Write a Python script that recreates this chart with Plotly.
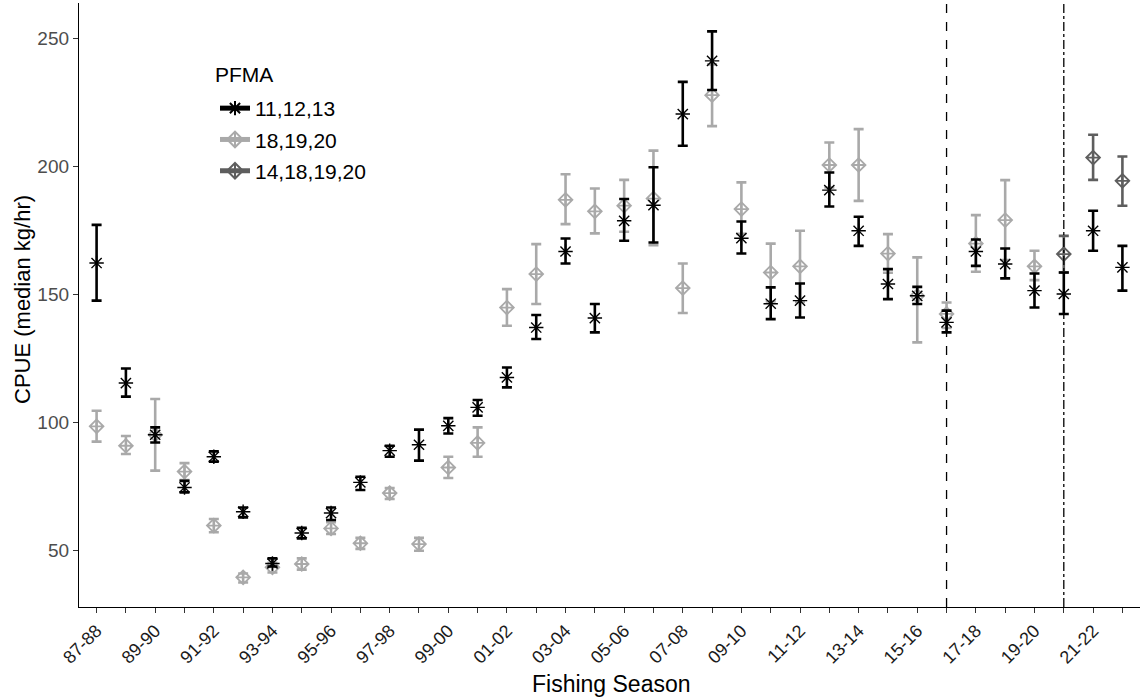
import plotly.graph_objects as go

seasons = ["87-88","88-89","89-90","90-91","91-92","92-93","93-94","94-95","95-96","96-97",
           "97-98","98-99","99-00","00-01","01-02","02-03","03-04","04-05","05-06","06-07",
           "07-08","08-09","09-10","10-11","11-12","12-13","13-14","14-15","15-16","16-17",
           "17-18","18-19","19-20","20-21","21-22","22-23"]

# PFMA 11,12,13 (all seasons)
black_med = [162.4,115.5,95.3,74.7,86.7,65.2,45.0,56.9,64.7,76.7,89.1,91.4,98.8,106.0,117.7,137.2,
             166.9,140.9,178.9,185.0,220.6,241.4,172.1,146.5,147.7,190.9,175.0,154.2,149.6,139.2,
             166.9,162.0,151.6,150.3,175.0,160.7]
black_hi = [177.3,121.2,98.2,77.3,88.8,66.9,47.0,58.9,66.9,78.9,91.0,97.3,101.8,108.9,121.6,142.1,
            172.0,146.4,187.4,199.8,233.2,252.9,178.6,152.9,154.4,197.8,180.5,160.0,153.1,143.8,
            171.6,168.1,158.3,158.7,182.8,169.1]
black_lo = [147.7,110.2,92.3,72.8,84.8,63.0,43.8,54.8,62.0,73.7,86.7,85.2,95.8,102.7,113.8,132.7,
            162.2,135.3,171.1,170.4,208.2,230.0,166.1,140.5,141.1,184.5,169.1,148.3,146.4,135.3,
            161.3,156.4,145.0,142.5,167.2,151.6]

# PFMA 18,19,20 (87-88 to 19-20)
gray_med = [98.6,91.0,95.3,80.9,59.8,39.6,43.5,44.8,58.7,52.9,72.5,52.6,82.5,92.1,145.0,158.1,
            187.1,182.6,184.8,187.6,152.6,228.0,183.5,158.7,161.1,200.7,200.7,166.1,149.6,142.5,
            170.0,179.2,161.1]
gray_hi = [104.7,94.8,109.3,84.2,62.4,41.1,45.3,47.0,61.1,55.0,74.5,55.0,86.7,98.2,152.2,169.8,
           197.1,191.5,194.9,206.3,162.2,240.0,193.9,170.0,175.0,209.5,214.7,173.7,164.6,147.0,
           181.1,194.8,167.2]
gray_lo = [92.6,87.8,81.3,77.6,57.2,37.6,41.5,42.6,56.5,50.7,70.2,50.0,78.4,86.7,137.9,146.4,
           177.6,174.0,174.6,169.4,142.9,215.9,173.8,147.4,147.2,191.9,186.7,158.6,131.4,137.0,
           159.0,163.6,155.7]

# PFMA 14,18,19,20 (20-21 to 22-23)
dgray_med = [165.9,203.6,194.5]
dgray_hi = [173.0,212.5,204.0]
dgray_lo = [158.7,194.9,184.8]

x_all = list(range(len(seasons)))
tick_text = [s if i % 2 == 0 else "" for i, s in enumerate(seasons)]

BLACK = "#000000"
GRAY = "#A9A9A9"
DGRAY = "#5E5E5E"

L, R, T, B = 79, 3, 3, 91
W, H = 1143, 698
PW, PH = W - L - R, H - T - B

def px_x(px):
    return (px - L) / PW

def px_y(py):
    return 1 - (py - T) / PH

fig = go.Figure()

def add_series(xs, med, hi, lo, color, symbol, size, lw, name, rank):
    fig.add_trace(go.Scatter(
        x=xs, y=med, mode="markers", name=name, showlegend=False, legendgroup=name,
        marker=dict(symbol=symbol, size=size, color=color, line=dict(color=color, width=lw)),
        error_y=dict(type="data", symmetric=False,
                     array=[h - m for h, m in zip(hi, med)],
                     arrayminus=[m - l for m, l in zip(med, lo)],
                     color=color, thickness=2.6, width=5),
    ))
    fig.add_trace(go.Scatter(
        x=[None], y=[None], mode="lines+markers", name=name, showlegend=True,
        legendgroup=name, legendrank=rank,
        line=dict(color=color, width=2.6),
        marker=dict(symbol=symbol, size=size, color=color, line=dict(color=color, width=lw)),
    ))

add_series(x_all[:len(gray_med)], gray_med, gray_hi, gray_lo, GRAY, "diamond-cross-open", 10.5, 1.8, "18,19,20", 2)
add_series(x_all[len(seasons) - len(dgray_med):], dgray_med, dgray_hi, dgray_lo, DGRAY, "diamond-cross-open", 10.5, 1.8, "14,18,19,20", 3)
add_series(x_all, black_med, black_hi, black_lo, BLACK, "asterisk-open", 12, 1.4, "11,12,13", 1)

fig.add_shape(type="line", x0=29, x1=29, xref="x", y0=0, y1=1, yref="paper",
              line=dict(color="black", width=1.3, dash="dash"))
fig.add_shape(type="line", x0=33, x1=33, xref="x", y0=0, y1=1, yref="paper",
              line=dict(color="black", width=1.3, dash="dashdot"))

fig.add_annotation(text="PFMA", xref="paper", yref="paper",
                   x=px_x(213), y=px_y(75), xanchor="left", yanchor="middle",
                   showarrow=False, font=dict(size=21, color="black"))
fig.add_annotation(text="CPUE (median kg/hr)", xref="paper", yref="paper",
                   x=px_x(22), y=px_y(300), xanchor="center", yanchor="middle", textangle=-90,
                   showarrow=False, font=dict(size=22, color="black"))
fig.add_annotation(text="Fishing Season", xref="paper", yref="paper",
                   x=px_x(611), y=px_y(684), xanchor="center", yanchor="middle",
                   showarrow=False, font=dict(size=23, color="black"))

fig.update_layout(
    width=W, height=H,
    margin=dict(l=L, r=R, t=T, b=B),
    plot_bgcolor="white", paper_bgcolor="white",
    font=dict(family="Liberation Sans, Arial, sans-serif", color="black"),
    xaxis=dict(
        range=[-0.6, 35.6], tickmode="array", tickvals=x_all, ticktext=tick_text,
        tickangle=-45, ticks="outside", ticklen=5, tickwidth=1.3, tickcolor="#333333",
        showline=True, linecolor="black", linewidth=1.3, showgrid=False, zeroline=False,
        tickfont=dict(size=18, color="#1a1a1a"), automargin=False,
    ),
    yaxis=dict(
        range=[28, 264], tickvals=[50, 100, 150, 200, 250],
        ticks="outside", ticklen=5, tickwidth=1.3, tickcolor="#333333",
        showline=True, linecolor="black", linewidth=1.3, showgrid=False, zeroline=False,
        tickfont=dict(size=19, color="#4D4D4D"), automargin=False,
    ),
    legend=dict(
        x=px_x(215), y=px_y(88), xanchor="left", yanchor="top",
        font=dict(size=21), bgcolor="rgba(0,0,0,0)", tracegroupgap=1,
        itemsizing="constant", traceorder="grouped",
    ),
)

fig.write_html("out.html", config={"displayModeBar": False},
               post_script="document.body.style.margin='0';document.body.style.padding='0';")
